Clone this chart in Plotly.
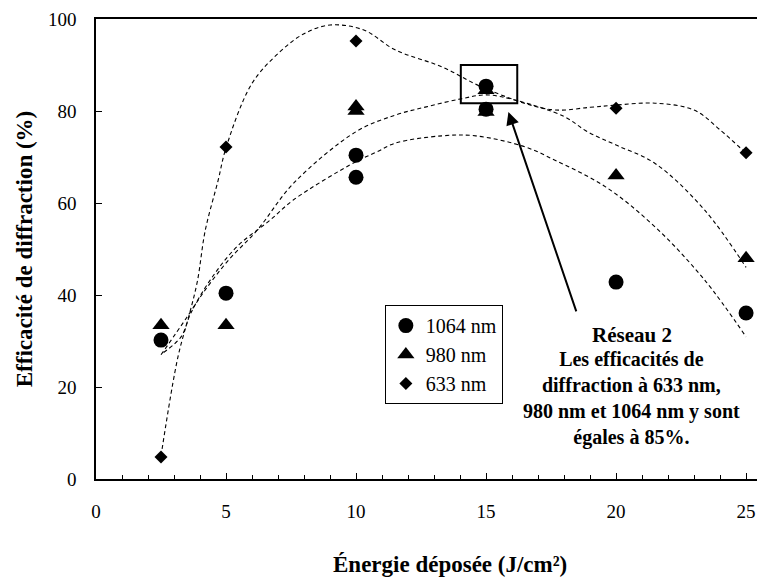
import plotly.graph_objects as go

# measured points
energy_1064 = [2.5, 5, 10, 10, 15, 15, 20, 25]
eff_1064 = [30.2, 40.4, 70.4, 65.6, 85.4, 80.4, 42.8, 36.1]

energy_980 = [2.5, 5, 10, 10, 15, 15, 20, 25]
eff_980 = [33.4, 33.4, 81.0, 80.0, 84.5, 79.8, 66.0, 48.0]

energy_633 = [2.5, 5, 10, 15, 20, 25]
eff_633 = [4.8, 72.2, 95.2, 85.0, 80.6, 70.9]

# trend curves
fit_x_633 = [2.5, 3.15, 3.6, 3.9, 4.2, 4.7, 5.0, 6.0, 7.1, 8.0, 9.0, 10.3, 11.5, 13.3, 15.0, 17.5, 19.0, 20.0, 21.5, 23.0, 24.0, 25.0]
fit_y_633 = [5, 26.5, 36, 43, 54, 65, 72, 86, 93, 96.8, 98.7, 97.6, 93.3, 89.6, 84.8, 80.3, 80.8, 81.3, 81.7, 80.2, 75.9, 70.8]

fit_x_980 = [2.5, 3.5, 4.2, 5.1, 6.2, 7.6, 10, 11.5, 12.7, 14, 15, 16.1, 18, 18.9, 20, 21.5, 23.4, 25]
fit_y_980 = [27, 35.2, 41.1, 47.6, 54.1, 64.3, 75.5, 79.1, 80.9, 82.6, 83.5, 82.4, 78.8, 75.5, 72.6, 68.6, 58.5, 46]

fit_x_1064 = [2.6, 3.27, 3.65, 4.4, 5.4, 6.7, 7.6, 10, 10.8, 11.5, 13.3, 14.6, 16.5, 17.65, 19.6, 21.5, 23.4, 25]
fit_y_1064 = [27.5, 30.9, 36.1, 43.3, 50.4, 56.3, 60.7, 69, 71.1, 73, 74.6, 74.6, 72.2, 69.3, 63.5, 54.8, 43.3, 30.9]

serif = "Liberation Serif"

fig = go.Figure()

for fx, fy in [(fit_x_633, fit_y_633), (fit_x_980, fit_y_980), (fit_x_1064, fit_y_1064)]:
    fig.add_trace(go.Scatter(x=fx, y=fy, mode="lines", line_shape="spline",
        line=dict(color="black", width=1.1, dash="4px,3px"), showlegend=False, hoverinfo="skip"))

fig.add_trace(go.Scatter(x=energy_633, y=eff_633, mode="markers", name="633 nm",
    marker=dict(symbol="diamond", size=10, color="black")))
fig.add_trace(go.Scatter(x=energy_980, y=eff_980, mode="markers", name="980 nm",
    marker=dict(symbol="triangle-up", size=15, color="black")))
fig.add_trace(go.Scatter(x=energy_1064, y=eff_1064, mode="markers", name="1064 nm",
    marker=dict(symbol="circle", size=15, color="black")))

# highlight box + arrow + note
fig.add_shape(type="rect", x0=14.03, x1=16.2, y0=81.7, y1=90,
    line=dict(color="black", width=2))
fig.add_annotation(x=15.86, y=79.8, ax=18.49, ay=36.1, xref="x", yref="y",
    axref="x", ayref="y", text="", showarrow=True, arrowhead=2, arrowsize=1.3,
    arrowwidth=2, arrowcolor="black")
fig.add_annotation(x=20.6, y=31.2, text="<b>Réseau 2</b>", showarrow=False,
    font=dict(family=serif, size=21, color="black"))
fig.add_annotation(x=20.6, y=17.4, showarrow=False, align="center",
    text="<b>Les efficacités de<br>diffraction à 633 nm,<br>980 nm et 1064 nm y sont<br>égales à 85%.</b>",
    font=dict(family=serif, size=20, color="black"))

# x title sits a bit right of centre in the original
fig.add_annotation(x=0.535, y=-0.185, xref="paper", yref="paper", yanchor="middle",
    text="<b>Énergie déposée (J/cm²)</b>", showarrow=False,
    font=dict(family=serif, size=23, color="black"))

fig.update_xaxes(range=[0, 25.42], tickvals=[0, 5, 10, 15, 20, 25],
    ticks="inside", ticklen=6, tickwidth=1.3, tickcolor="black",
    minor=dict(dtick=1, ticks="inside", ticklen=4, tickcolor="black"),
    showline=True, linecolor="black", linewidth=1.5, mirror=True,
    showgrid=False, zeroline=False, ticklabelstandoff=14,
    tickfont=dict(family=serif, size=19, color="black"))
fig.update_yaxes(range=[0, 100], tickvals=[0, 20, 40, 60, 80, 100],
    ticks="inside", ticklen=6, tickwidth=1.3, tickcolor="black",
    showline=True, linecolor="black", linewidth=1.5,
    showgrid=False, zeroline=False, ticklabelstandoff=14,
    tickfont=dict(family=serif, size=19, color="black"),
    title=dict(text="<b>Efficacité de diffraction (%)</b>", standoff=9,
        font=dict(family=serif, size=23, color="black")))

# page body adds 8px margin, so the figure is made smaller to fit the window
fig.update_layout(width=749, height=571, plot_bgcolor="white", paper_bgcolor="white",
    margin=dict(l=88, r=0, t=11, b=100, autoexpand=False),
    legend=dict(x=0.437, y=0.378, xanchor="left", yanchor="top", traceorder="reversed",
        bordercolor="black", borderwidth=1, bgcolor="white", itemwidth=30,
        font=dict(family=serif, size=20, color="black")))

fig.write_html("out.html")
